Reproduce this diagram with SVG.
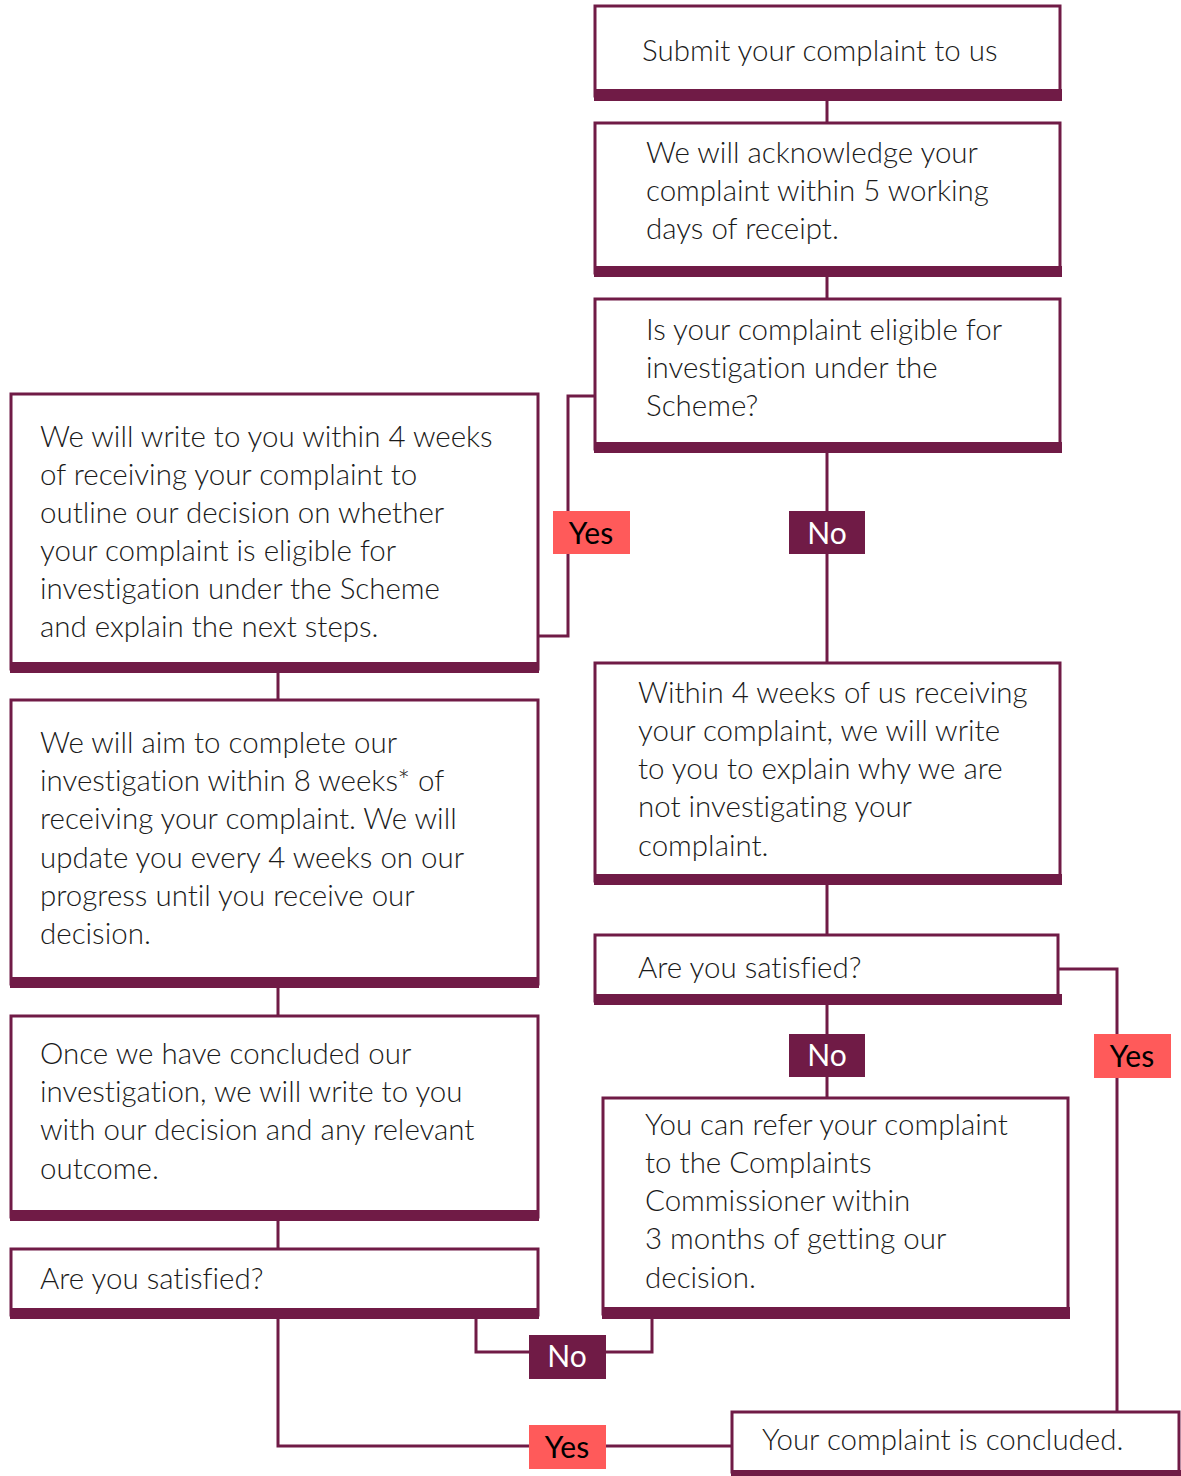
<svg xmlns="http://www.w3.org/2000/svg" width="1181" height="1476" viewBox="0 0 1181 1476">
<style>
.box{fill:#fff;stroke:#701b46;stroke-width:3}
.bar{fill:#701b46}
.t{font-family:Lato,"Liberation Sans",sans-serif;font-size:29.5px;fill:#1a1a1a;font-weight:300;font-variant-ligatures:none}
.ln{fill:none;stroke:#701b46;stroke-width:3}
.no{fill:#701b46}
.yes{fill:#ff5a5a}
.lt{font-family:Lato,"Liberation Sans",sans-serif;font-size:30px;text-anchor:middle}
.lw{fill:#fff}
.lb{fill:#000}
</style>
<g id="connectors">
<path class="ln" d="M827 100V123M827 277V299"/>
<path class="ln" d="M594 396H568V636H539"/>
<path class="ln" d="M827 453V662"/>
<path class="ln" d="M278 673V699M278 988V1015M278 1221V1248"/>
<path class="ln" d="M827 885V934M827 1005V1097"/>
<path class="ln" d="M1059 969H1117V1411"/>
<path class="ln" d="M476 1319V1352H652V1319"/>
<path class="ln" d="M278 1319V1446H731"/>
<rect class="yes" x="553" y="511" width="77" height="43"/><text class="lt lb" x="591" y="544">Yes</text>
<rect class="no" x="789" y="511" width="76" height="43"/><text class="lt lw" x="827" y="544">No</text>
<rect class="no" x="789" y="1034" width="76" height="43"/><text class="lt lw" x="827" y="1066">No</text>
<rect class="yes" x="1094" y="1034" width="77" height="44"/><text class="lt lb" x="1132" y="1067">Yes</text>
<rect class="no" x="529" y="1335" width="77" height="44"/><text class="lt lw" x="567" y="1367">No</text>
<rect class="yes" x="529" y="1425" width="77" height="44"/><text class="lt lb" x="567" y="1458">Yes</text>
</g>
<g id="n1"><rect class="box" x="595" y="6" width="465" height="90"/><rect class="bar" x="594" y="89" width="468" height="12"/>
<text class="t" x="642" y="61">Submit your complaint to us</text></g>
<g id="n2"><rect class="box" x="595" y="123" width="465" height="150"/><rect class="bar" x="594" y="266" width="468" height="11"/>
<text class="t" x="646"><tspan x="646" y="163">We will acknowledge your</tspan><tspan x="646" y="201">complaint within 5 working</tspan><tspan x="646" y="239">days of receipt.</tspan></text></g>
<g id="n3"><rect class="box" x="595" y="299" width="465" height="150"/><rect class="bar" x="594" y="442" width="468" height="11"/>
<text class="t"><tspan x="646" y="340">Is your complaint eligible for</tspan><tspan x="646" y="378">investigation under the</tspan><tspan x="646" y="416">Scheme?</tspan></text></g>
<g id="n4"><rect class="box" x="11" y="394" width="527" height="275"/><rect class="bar" x="10" y="662" width="529" height="11"/>
<text class="t"><tspan x="40" y="447">We will write to you within 4 weeks</tspan><tspan x="40" y="485">of receiving your complaint to</tspan><tspan x="40" y="523">outline our decision on whether</tspan><tspan x="40" y="561">your complaint is eligible for</tspan><tspan x="40" y="599">investigation under the Scheme</tspan><tspan x="40" y="637">and explain the next steps.</tspan></text></g>
<g id="n5"><rect class="box" x="11" y="700" width="527" height="284"/><rect class="bar" x="10" y="977" width="529" height="11"/>
<text class="t"><tspan x="40" y="753">We will aim to complete our</tspan><tspan x="40" y="791">investigation within 8 weeks* of</tspan><tspan x="40" y="829">receiving your complaint. We will</tspan><tspan x="40" y="868">update you every 4 weeks on our</tspan><tspan x="40" y="906">progress until you receive our</tspan><tspan x="40" y="944">decision.</tspan></text></g>
<g id="n6"><rect class="box" x="11" y="1016" width="527" height="201"/><rect class="bar" x="10" y="1210" width="529" height="11"/>
<text class="t"><tspan x="40" y="1064">Once we have concluded our</tspan><tspan x="40" y="1102">investigation, we will write to you</tspan><tspan x="40" y="1140">with our decision and any relevant</tspan><tspan x="40" y="1179">outcome.</tspan></text></g>
<g id="n7"><rect class="box" x="11" y="1249" width="527" height="66"/><rect class="bar" x="10" y="1308" width="529" height="11"/>
<text class="t" x="40" y="1289">Are you satisfied?</text></g>
<g id="n8"><rect class="box" x="595" y="663" width="465" height="218"/><rect class="bar" x="594" y="874" width="468" height="11"/>
<text class="t"><tspan x="638" y="703">Within 4 weeks of us receiving</tspan><tspan x="638" y="741">your complaint, we will write</tspan><tspan x="638" y="779">to you to explain why we are</tspan><tspan x="638" y="817">not investigating your</tspan><tspan x="638" y="856">complaint.</tspan></text></g>
<g id="n9"><rect class="box" x="595" y="935" width="463" height="66"/><rect class="bar" x="594" y="994" width="468" height="11"/>
<text class="t" x="638" y="978">Are you satisfied?</text></g>
<g id="n10"><rect class="box" x="603" y="1098" width="465" height="216"/><rect class="bar" x="602" y="1307" width="468" height="12"/>
<text class="t"><tspan x="645" y="1135">You can refer your complaint</tspan><tspan x="645" y="1173">to the Complaints</tspan><tspan x="645" y="1211">Commissioner within</tspan><tspan x="645" y="1249">3 months of getting our</tspan><tspan x="645" y="1288">decision.</tspan></text></g>
<g id="n11"><rect class="box" x="732" y="1412" width="447" height="60"/><rect class="bar" x="731" y="1470" width="450" height="6"/>
<text class="t" x="762" y="1450">Your complaint is concluded.</text></g>
</svg>
